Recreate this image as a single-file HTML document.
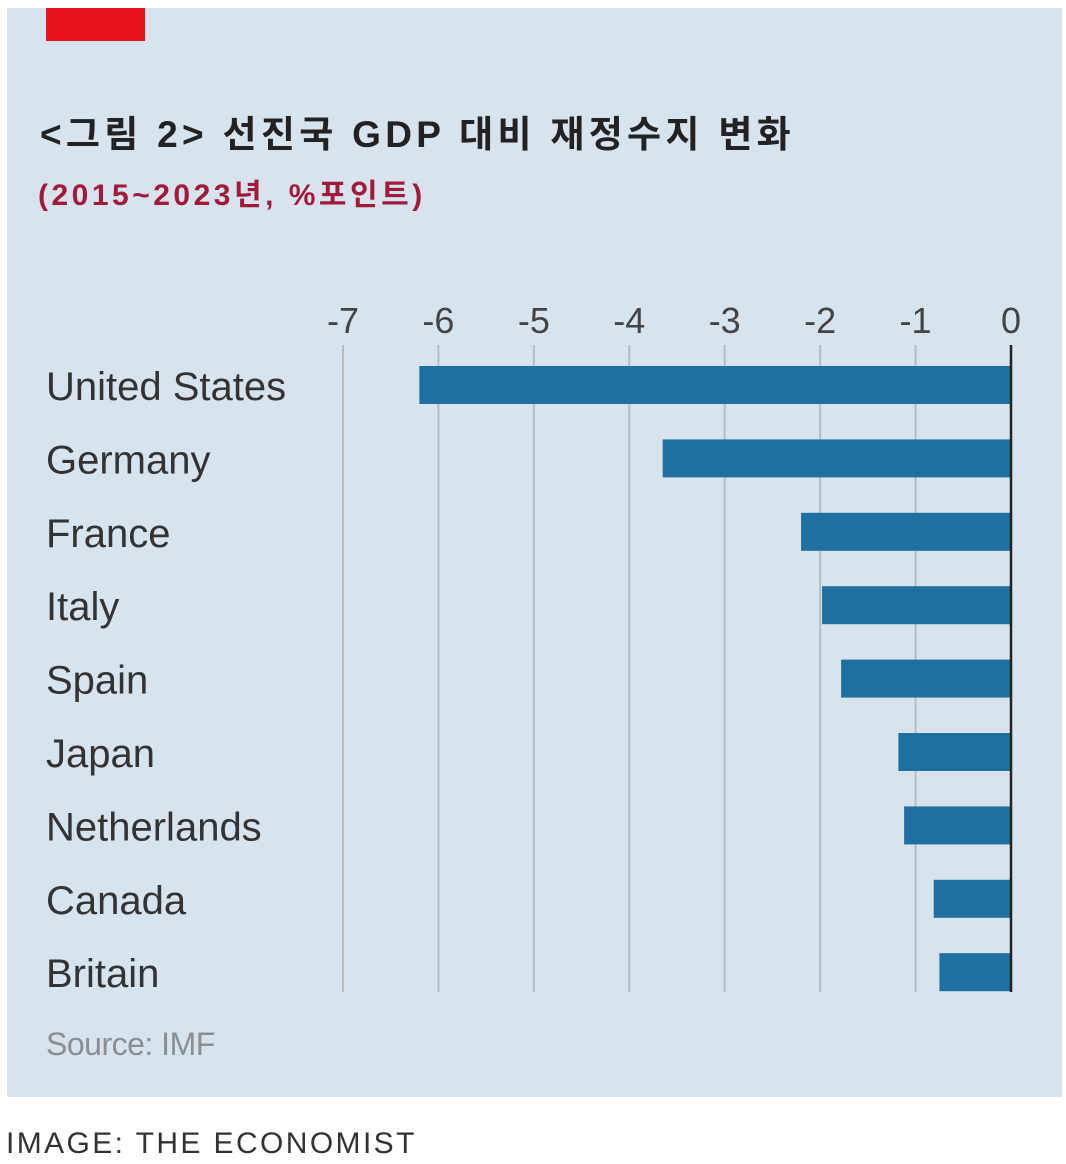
<!DOCTYPE html>
<html><head><meta charset="utf-8"><style>
body{margin:0;width:1066px;height:1164px;background:#fff;position:relative;overflow:hidden;font-family:"Liberation Sans","Noto Sans CJK KR",sans-serif}
#panel{position:absolute;left:7px;top:8px;width:1055px;height:1089px;background:#d7e4ed}
#red{position:absolute;left:46px;top:8px;width:99px;height:33px;background:#e8141c}
.t{position:absolute;white-space:nowrap}
</style></head><body>
<div id="panel"></div>
<div id="red"></div>
<div class="t" style="left:40px;top:104px;font-size:37px;font-weight:bold;color:#222;letter-spacing:4.3px">&lt;그림 2&gt; 선진국 GDP 대비 재정수지 변화</div>
<div class="t" style="left:38px;top:170px;font-size:30px;font-weight:bold;color:#a21a3a;letter-spacing:3.5px">(2015~2023년, %포인트)</div>
<svg id="chart" width="1066" height="1164" style="position:absolute;left:0;top:0"></svg>
<div class="t" style="left:46px;top:1026px;font-size:32px;color:#8a8f94;letter-spacing:-0.5px">Source: IMF</div>
<div class="t" style="left:6px;top:1127px;font-size:30px;color:#333;letter-spacing:2.4px">IMAGE: THE ECONOMIST</div>
<script>
const categories=["United States","Germany","France","Italy","Spain","Japan","Netherlands","Canada","Britain"];
const values=[-6.2,-3.65,-2.2,-1.98,-1.78,-1.18,-1.12,-0.81,-0.75];
const ticks=[-7,-6,-5,-4,-3,-2,-1,0];
const ns="http://www.w3.org/2000/svg";
const svg=document.getElementById("chart");
const x=v=>1011+v*95.43;
const y=i=>385+i*73.4;
function mk(t,a){const e=document.createElementNS(ns,t);for(const k in a)e.setAttribute(k,a[k]);svg.appendChild(e);return e;}
ticks.forEach(t=>{
  if(t!==0){const g=mk("line",{x1:x(t),x2:x(t),y1:345,y2:992,stroke:"#b7bcc0","stroke-width":2});
  
  }
  const l=mk("text",{x:x(t),y:333,"text-anchor":"middle","font-size":36,fill:"#444","font-family":"Liberation Sans, sans-serif"});
  l.textContent=t===0?"0":"-"+Math.abs(t);
  
  
});
categories.forEach((c,i)=>{
  const b=mk("rect",{x:x(values[i]),y:y(i)-19,width:x(0)-x(values[i]),height:38,fill:"#1f6fa0"});
  
  
  const l=mk("text",{x:46,y:y(i)+15,"font-size":40,fill:"#333","font-family":"Liberation Sans, sans-serif"});
  l.textContent=c;
  
  
});
const z=mk("line",{x1:x(0),x2:x(0),y1:345,y2:992,stroke:"#222","stroke-width":2.5});


</script>
</body></html>
